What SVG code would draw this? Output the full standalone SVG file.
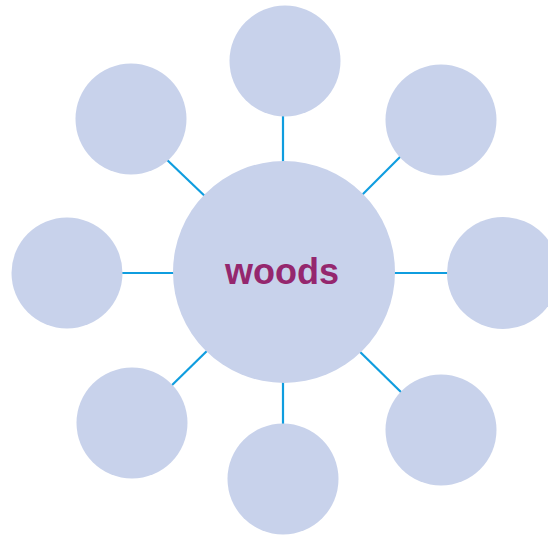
<svg xmlns="http://www.w3.org/2000/svg" width="548" height="535" viewBox="0 0 548 535">
<style>
.c{fill:#c8d2eb}
.l{stroke:#0f9ddf;stroke-width:2.2;fill:none}
.t{font-family:"Liberation Sans",Arial,sans-serif;font-weight:bold;font-size:36px;fill:#95276e;text-anchor:middle}
</style>
<rect width="548" height="535" fill="#fff"/>
<g id="connectors">
<line class="l" x1="283" y1="110" x2="283" y2="170"/>
<line class="l" x1="164" y1="157" x2="210" y2="201"/>
<line class="l" x1="404" y1="153" x2="356" y2="201"/>
<line class="l" x1="115" y1="273" x2="180" y2="273"/>
<line class="l" x1="388" y1="273" x2="455" y2="273"/>
<line class="l" x1="167" y1="390" x2="212" y2="346"/>
<line class="l" x1="283" y1="375" x2="283" y2="430"/>
<line class="l" x1="354" y1="346" x2="405" y2="396"/>
</g>
<g id="n-top"><circle class="c" cx="285" cy="61" r="55.5"/></g>
<g id="n-topleft"><circle class="c" cx="131" cy="119" r="55.5"/></g>
<g id="n-topright"><circle class="c" cx="441" cy="120" r="55.5"/></g>
<g id="n-left"><circle class="c" cx="67" cy="273" r="55.5"/></g>
<g id="n-right"><circle class="c" cx="503" cy="273" r="56"/></g>
<g id="n-bottomleft"><circle class="c" cx="132" cy="423" r="55.5"/></g>
<g id="n-bottom"><circle class="c" cx="283" cy="479" r="55.5"/></g>
<g id="n-bottomright"><circle class="c" cx="441" cy="430" r="55.5"/></g>
<g id="n-center"><circle class="c" cx="284" cy="272" r="111"/>
<text class="t" x="282" y="284">woods</text></g>
</svg>
